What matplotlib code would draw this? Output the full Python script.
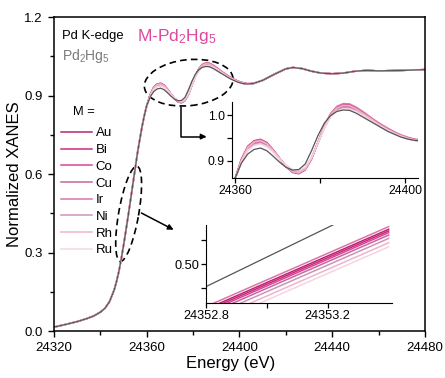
import numpy as np
import matplotlib.pyplot as plt
from matplotlib.patches import Ellipse
from matplotlib import transforms
from matplotlib.ticker import MultipleLocator, FixedLocator, FormatStrFormatter

plt.rcParams['font.family'] = ['Liberation Sans', 'DejaVu Sans']

# energy grid (eV): edge part, oscillation part (inset), tail
energy_a = [24320, 24325, 24330, 24334, 24337, 24340, 24342, 24344, 24346, 24347,
            24348, 24349, 24350, 24351, 24352, 24353, 24354, 24355, 24356, 24357,
            24358, 24359]
energy_b = [24360, 24361.5, 24363, 24364.5, 24366, 24367.5, 24369, 24370.5, 24372, 24373.5,
            24375, 24376.5, 24378, 24379.5, 24381, 24382.5, 24384, 24385.5, 24387, 24388.5,
            24390, 24391.5, 24393, 24394.5, 24396, 24397.5, 24399, 24400.5, 24402, 24403.5]
energy_c = [24406, 24410, 24415, 24420, 24423, 24427, 24431, 24435, 24440, 24445,
            24450, 24455, 24460, 24470, 24480]

# Pd2Hg5 reference
pd2hg5_a = [0.015, 0.025, 0.036, 0.047, 0.057, 0.072, 0.087, 0.113, 0.158, 0.190,
            0.228, 0.275, 0.327, 0.383, 0.440, 0.500, 0.560, 0.620, 0.680, 0.732,
            0.782, 0.825]
pd2hg5_b = [0.862, 0.895, 0.915, 0.925, 0.928, 0.922, 0.910, 0.897, 0.886, 0.880,
            0.881, 0.893, 0.922, 0.955, 0.982, 0.999, 1.008, 1.011, 1.010, 1.004,
            0.996, 0.988, 0.980, 0.972, 0.964, 0.958, 0.952, 0.948, 0.945, 0.944]
tail_c = [0.946, 0.958, 0.981, 1.002, 1.007, 1.003, 0.993, 0.986, 0.983, 0.986,
          0.993, 0.996, 0.994, 0.996, 0.999]

# M-Pd2Hg5 series in the oscillation region
metals = ['Au', 'Bi', 'Co', 'Cu', 'Ir', 'Ni', 'Rh', 'Ru']
colors = ['#b8246f', '#cc2a80', '#d9449a', '#c9669a', '#de74a4', '#cc94b8', '#eeb4cc', '#f5d4e0']
au_b = [0.860, 0.902, 0.930, 0.942, 0.945, 0.938, 0.923, 0.905, 0.888, 0.877,
        0.874, 0.882, 0.905, 0.940, 0.975, 1.001, 1.016, 1.022, 1.021, 1.014,
        1.005, 0.995, 0.986, 0.977, 0.969, 0.962, 0.955, 0.950, 0.946, 0.944]
bi_b = [0.861, 0.904, 0.932, 0.944, 0.947, 0.940, 0.924, 0.905, 0.887, 0.875,
        0.872, 0.880, 0.904, 0.940, 0.976, 1.003, 1.018, 1.024, 1.023, 1.016,
        1.007, 0.997, 0.987, 0.978, 0.970, 0.963, 0.956, 0.951, 0.947, 0.945]
co_b = [0.860, 0.900, 0.928, 0.940, 0.943, 0.936, 0.922, 0.905, 0.889, 0.878,
        0.875, 0.883, 0.906, 0.940, 0.974, 0.999, 1.014, 1.020, 1.019, 1.012,
        1.003, 0.994, 0.985, 0.976, 0.968, 0.961, 0.954, 0.949, 0.945, 0.943]
cu_b = [0.860, 0.899, 0.926, 0.938, 0.941, 0.935, 0.921, 0.904, 0.889, 0.879,
        0.876, 0.884, 0.906, 0.939, 0.973, 0.998, 1.012, 1.018, 1.017, 1.011,
        1.002, 0.993, 0.984, 0.975, 0.967, 0.960, 0.954, 0.949, 0.946, 0.944]
ir_b = [0.861, 0.903, 0.931, 0.943, 0.946, 0.939, 0.924, 0.906, 0.888, 0.876,
        0.873, 0.881, 0.904, 0.940, 0.976, 1.003, 1.019, 1.025, 1.024, 1.017,
        1.008, 0.998, 0.988, 0.979, 0.971, 0.963, 0.957, 0.952, 0.948, 0.946]
ni_b = [0.859, 0.898, 0.925, 0.936, 0.939, 0.933, 0.920, 0.904, 0.890, 0.880,
        0.877, 0.885, 0.907, 0.939, 0.972, 0.997, 1.011, 1.016, 1.015, 1.009,
        1.001, 0.992, 0.983, 0.975, 0.967, 0.960, 0.954, 0.949, 0.946, 0.944]
rh_b = [0.860, 0.901, 0.929, 0.941, 0.944, 0.937, 0.922, 0.905, 0.888, 0.877,
        0.874, 0.882, 0.905, 0.940, 0.975, 1.001, 1.015, 1.021, 1.020, 1.013,
        1.004, 0.995, 0.985, 0.976, 0.968, 0.961, 0.955, 0.950, 0.946, 0.944]
ru_b = [0.859, 0.897, 0.923, 0.934, 0.937, 0.931, 0.919, 0.904, 0.890, 0.881,
        0.878, 0.886, 0.908, 0.939, 0.971, 0.996, 1.009, 1.014, 1.013, 1.008,
        1.000, 0.991, 0.982, 0.974, 0.966, 0.959, 0.953, 0.948, 0.945, 0.943]
m_b = [au_b, bi_b, co_b, cu_b, ir_b, ni_b, rh_b, ru_b]

# zoom on the edge at half height: values at both ends of the window
edge_e = [24352.8, 24353.4]
edge_pd2hg5 = [0.4907, 0.5277]
edge_m = [[0.4813, 0.5146], [0.4806, 0.5139], [0.4799, 0.5132], [0.4789, 0.5122],
          [0.4824, 0.5157], [0.4775, 0.5108], [0.4757, 0.5090], [0.4740, 0.5073]]

energy = np.concatenate([energy_a, energy_b, energy_c])
ref = np.concatenate([pd2hg5_a, pd2hg5_b, tail_c])
grey = '#555555'

fig = plt.figure(figsize=(4.45, 3.78), dpi=100)
ax = fig.add_axes([0.1213, 0.1243, 0.8337, 0.8307])
for i in range(len(metals)):
    ax.plot(energy, np.concatenate([pd2hg5_a, m_b[i], tail_c]), color=colors[i], lw=1.1, label=metals[i])
ax.plot(energy, ref, color=grey, lw=0.9)

ax.set_xlim(24320, 24480)
ax.set_ylim(0, 1.2)
ax.xaxis.set_major_locator(MultipleLocator(40))
ax.xaxis.set_minor_locator(MultipleLocator(20))
ax.yaxis.set_major_locator(MultipleLocator(0.3))
ax.yaxis.set_minor_locator(MultipleLocator(0.15))
ax.yaxis.set_major_formatter(FormatStrFormatter('%.1f'))
ax.tick_params(which='both', direction='out', labelsize=9.5, width=1, top=False, right=False)
ax.tick_params(which='major', length=4.5)
ax.tick_params(which='minor', length=3)
for s in ax.spines.values():
    s.set_linewidth(1.1)
ax.set_xlabel('Energy (eV)', fontsize=12, labelpad=1, x=0.475)
ax.set_ylabel('Normalized XANES', fontsize=12, labelpad=2)

ax.text(0.021, 0.929, 'Pd K-edge', fontsize=9.4, transform=ax.transAxes, va='baseline')
ax.text(0.223, 0.925, r'M-Pd$\mathregular{_2}$Hg$\mathregular{_5}$', fontsize=12.5, color='#e0489f',
        transform=ax.transAxes, va='baseline')
ax.text(0.021, 0.862, r'Pd$\mathregular{_2}$Hg$\mathregular{_5}$', fontsize=10, color='#7a7a7a',
        transform=ax.transAxes, va='baseline')
ax.text(0.051, 0.688, 'M =', fontsize=9.3, transform=ax.transAxes, va='baseline')
ax.legend(loc='upper left', bbox_to_anchor=(0.006, 0.666), frameon=False, fontsize=9.5,
          handlelength=2.3, handletextpad=0.3, labelspacing=0.34, borderaxespad=0)

# dashed ellipses, sizes in inches
ell1 = Ellipse((0, 0), 0.89, 0.46, angle=6, fill=False, ls=(0, (4, 2.5)), lw=1.2, color='k',
               transform=fig.dpi_scale_trans + transforms.ScaledTranslation(24378.1, 0.949, ax.transData))
ell2 = Ellipse((0, 0), 0.965, 0.2, angle=80, fill=False, ls=(0, (4, 2.5)), lw=1.2, color='k',
               transform=fig.dpi_scale_trans + transforms.ScaledTranslation(24352.2, 0.448, ax.transData))
ax.add_patch(ell1)
ax.add_patch(ell2)

ax.annotate('', xy=(24385.8, 0.743), xytext=(24374.6, 0.858),
            arrowprops=dict(arrowstyle='-|>', connectionstyle='angle,angleA=90,angleB=0,rad=0',
                            color='k', lw=1.1, mutation_scale=8, shrinkA=0, shrinkB=0))
ax.annotate('', xy=(24371.6, 0.387), xytext=(24357.7, 0.451),
            arrowprops=dict(arrowstyle='-|>', color='k', lw=1.1, mutation_scale=8, shrinkA=0, shrinkB=0))

# inset 1: oscillations
ax1 = fig.add_axes([0.5207, 0.5283, 0.4187, 0.2026])
for i in range(len(metals)):
    ax1.plot(energy, np.concatenate([pd2hg5_a, m_b[i], tail_c]), color=colors[i], lw=1.1)
ax1.plot(energy, ref, color=grey, lw=0.9)
ax1.set_xlim(24359.22, 24403.06)
ax1.set_ylim(0.862, 1.029)
ax1.xaxis.set_major_locator(FixedLocator([24360, 24400]))
ax1.xaxis.set_minor_locator(FixedLocator([24380]))
ax1.yaxis.set_major_locator(FixedLocator([0.9, 1.0]))
ax1.yaxis.set_minor_locator(FixedLocator([0.95]))
ax1.yaxis.set_major_formatter(FormatStrFormatter('%.1f'))

# inset 2: edge at half height
ax2 = fig.add_axes([0.4629, 0.1992, 0.4173, 0.2056])
for i in range(len(metals)):
    ax2.plot(edge_e, edge_m[i], color=colors[i], lw=1.1)
ax2.plot(edge_e, edge_pd2hg5, color=grey, lw=0.9)
ax2.set_xlim(24352.8, 24353.41)
ax2.set_ylim(0.484, 0.5164)
ax2.xaxis.set_major_locator(FixedLocator([24352.8, 24353.2]))
ax2.xaxis.set_minor_locator(FixedLocator([24353.0]))
ax2.yaxis.set_major_locator(FixedLocator([0.50]))
ax2.yaxis.set_minor_locator(FixedLocator([0.49, 0.51]))
ax2.xaxis.set_major_formatter(FormatStrFormatter('%.1f'))
ax2.yaxis.set_major_formatter(FormatStrFormatter('%.2f'))

for a, fs in [(ax1, 8.7), (ax2, 9.2)]:
    a.spines['top'].set_visible(False)
    a.spines['right'].set_visible(False)
    a.tick_params(which='both', direction='out', labelsize=fs, width=0.9, length=3.5, pad=1.5)
    a.patch.set_alpha(0)

fig.savefig('out.png', dpi=100)
